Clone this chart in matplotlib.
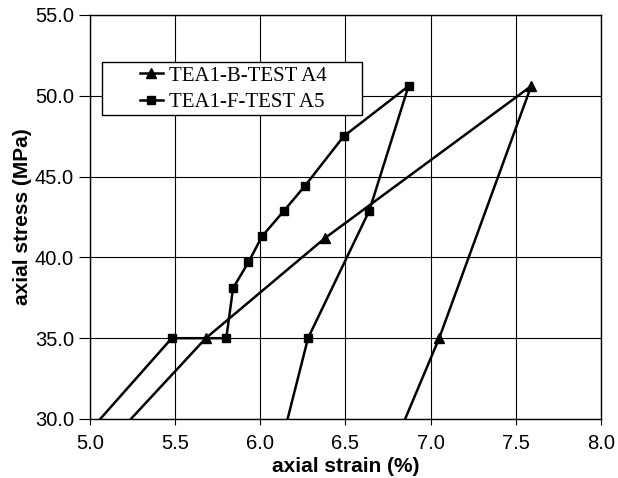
import matplotlib
matplotlib.use("Agg")
import matplotlib.pyplot as plt
from matplotlib.patches import Rectangle
from matplotlib.ticker import FormatStrFormatter, MultipleLocator

# Loading/unloading paths for the two tests
a4_strain = [5.24, 5.68, 6.38, 7.59, 7.05, 6.85]
a4_stress = [30.0, 35.0, 41.2, 50.6, 35.0, 30.0]

a5_strain = [5.06, 5.48, 5.80, 5.84, 5.93, 6.01, 6.14, 6.26, 6.49, 6.87, 6.64, 6.28, 6.16]
a5_stress = [30.0, 35.0, 35.0, 38.1, 39.7, 41.3, 42.9, 44.4, 47.5, 50.6, 42.9, 35.0, 30.0]

labels = ["TEA1-B-TEST A4", "TEA1-F-TEST A5"]

W, H = 618, 478
fig = plt.figure(figsize=(W / 100, H / 100), dpi=100)
ax = fig.add_axes([90 / W, 1 - 419 / H, 511 / W, 404 / H])

sans = ["Liberation Sans", "DejaVu Sans"]

ax.plot(a4_strain, a4_stress, color="black", lw=1.8, marker="^", ms=7,
        markevery=slice(1, len(a4_strain) - 1), label=labels[0], zorder=3)
ax.plot(a5_strain, a5_stress, color="black", lw=1.8, marker="s", ms=6,
        markevery=slice(1, len(a5_strain) - 1), label=labels[1], zorder=3)

ax.set_xlim(5.0, 8.0)
ax.set_ylim(30.0, 55.0)
ax.xaxis.set_major_locator(MultipleLocator(0.5))
ax.yaxis.set_major_locator(MultipleLocator(5.0))
ax.xaxis.set_major_formatter(FormatStrFormatter("%.1f"))
ax.yaxis.set_major_formatter(FormatStrFormatter("%.1f"))
ax.grid(True, color="black", lw=0.8)
ax.set_axisbelow(True)
for s in ax.spines.values():
    s.set_color("black")
    s.set_linewidth(1.0)
ax.tick_params(axis="x", direction="out", length=4, width=0.8, colors="black",
               labelsize=14.5, pad=7)
ax.tick_params(axis="y", direction="out", length=8, width=0.8, colors="black",
               labelsize=14.5, pad=3.5)
for t in ax.get_xticklabels() + ax.get_yticklabels():
    t.set_family(sans)

ax.set_xlabel("axial strain (%)", fontsize=15, fontweight="bold", family=sans, labelpad=3)
ax.set_ylabel("axial stress (MPa)", fontsize=15, fontweight="bold", family=sans, labelpad=2)

# Legend box drawn as a plain rectangle with wide side margins
box = Rectangle((102 / W, 1 - 115 / H), 260 / W, 53 / H, transform=fig.transFigure,
                facecolor="white", edgecolor="black", lw=1.0, zorder=4)
fig.patches.append(box)

leg = fig.legend(*ax.get_legend_handles_labels(), loc="upper left",
                 bbox_to_anchor=(140 / W, 1 - 66 / H), bbox_transform=fig.transFigure,
                 borderaxespad=0, borderpad=0, numpoints=1, handlelength=1.1,
                 handletextpad=0.3, frameon=False, labelspacing=0.35,
                 prop={"family": ["Liberation Serif", "DejaVu Serif"], "size": 15})
leg.set_zorder(5)

fig.savefig("out.png", dpi=100)
